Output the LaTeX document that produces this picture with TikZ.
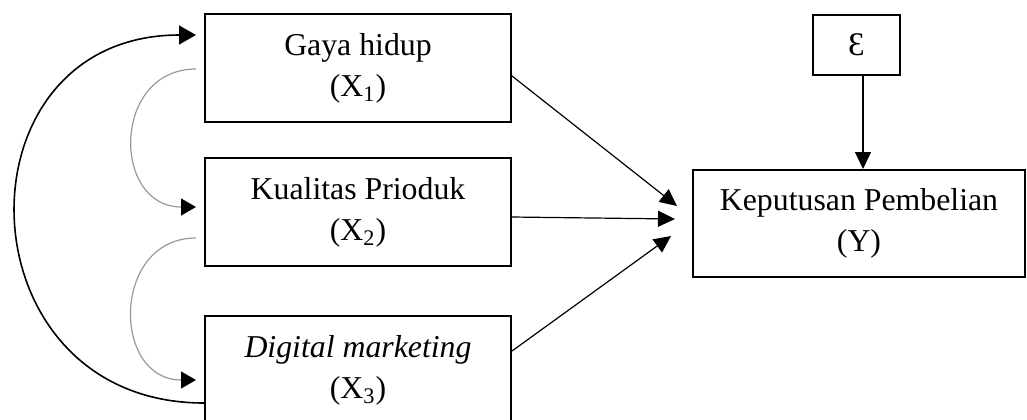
\documentclass[tikz,border=0pt]{standalone}
\usepackage{fontspec}
\setmainfont{Liberation Serif}
\usepackage{tikz}
\usetikzlibrary{arrows.meta, positioning}
\tikzset{var/.style={draw,line width=1pt,minimum width=153pt,minimum height=54pt,
    inner sep=0pt,align=center,font=\fontsize{15.9pt}{20.5pt}\selectfont},
    err/.style={draw,line width=0.7pt,minimum width=43.5pt,minimum height=30pt,
    inner sep=0pt,font=\fontsize{16.5pt}{20.5pt}\selectfont},
    path edge/.style={draw,line width=0.6pt,-{Triangle[length=8.5pt,width=8pt]}},
    cov edge/.style={draw,line width=0.6pt,black!40,-{Triangle[length=7.5pt,width=8.5pt,color=black]}},
    big cov edge/.style={draw,line width=0.8pt,-{Triangle[length=8.5pt,width=9.5pt]}}}

\begin{document}
\begin{tikzpicture}[x=0.5pt,y=-0.5pt]
\useasboundingbox (0,0) rectangle (1027,419);

% Exogenous variables on the left
\node[var] (x1) at (358,68) {Gaya hidup\\(X\textsubscript{1})};
\node[var] (x2) at (358,212) {Kualitas Prioduk\\(X\textsubscript{2})};
\node[var] (x3) at (358,370) {\textit{Digital marketing}\\(X\textsubscript{3})};

% Endogenous variable and error term
\node[var,minimum width=166pt,minimum height=53.5pt] (y) at (859,223.5) {Keputusan Pembelian\\(Y)};
\node[err] (e) at (856.5,45) {Ɛ};

% Arrow ends in front of Y
\coordinate (t1) at (677,206);
\coordinate (t2) at (675,219);
\coordinate (t3) at (671,236);

% Direct paths
\draw[path edge] ([yshift=-4pt]x1.east) -- (t1);
\draw[path edge] ([yshift=-2.5pt]x2.east) -- (t2);
\draw[path edge] ([yshift=9.5pt]x3.east) -- (t3);
\draw[path edge] ([xshift=3.25pt]e.south) -- ([xshift=2pt]y.north);

% Correlations between the X variables
\draw[cov edge] ([xshift=-4pt,yshift=-0.5pt]x1.west) to[out=180,in=180,looseness=1.57] ([xshift=-4pt,yshift=2.5pt]x2.west);
\draw[cov edge] ([xshift=-4pt,yshift=-13pt]x2.west) to[out=180,in=180,looseness=1.53] ([xshift=-4pt,yshift=-5pt]x3.west);
\draw[big cov edge] ([yshift=-16.5pt]x3.west) to[out=180,in=180,looseness=1.7] ([xshift=-4pt,yshift=16.5pt]x1.west);
\end{tikzpicture}
\end{document}
